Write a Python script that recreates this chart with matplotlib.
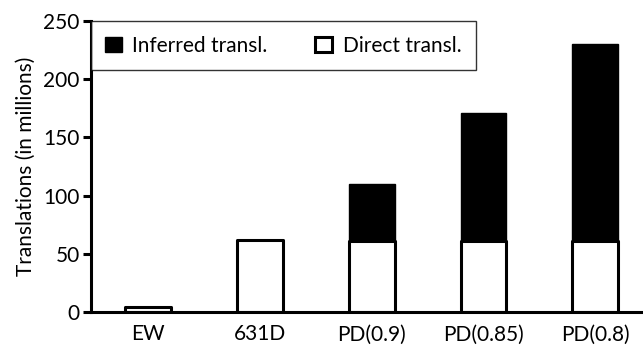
import matplotlib.pyplot as plt
import numpy as np

plt.rcParams['font.family'] = ['Lato', 'DejaVu Sans']

# data
categories = ['EW', '631D', 'PD(0.9)', 'PD(0.85)', 'PD(0.8)']
direct = [4, 62, 61, 61, 61]
inferred = [0, 0, 49, 110, 169]

fig = plt.figure(figsize=(6.43, 3.45), dpi=100)
ax = fig.add_axes([0.141, 0.0957, 0.856, 0.843])

x = np.arange(len(categories))
w = 0.41
ax.bar(x, direct, w, color='white', edgecolor='black', linewidth=2.2,
       joinstyle='round', label='Direct transl.', zorder=2)
ax.bar(x, inferred, w, bottom=direct, color='black', edgecolor='black',
       linewidth=1.0, label='Inferred transl.', zorder=2)

ax.set_xlim(-0.513, 4.41)
ax.set_ylim(0, 250)
ax.set_yticks([0, 50, 100, 150, 200, 250])
ax.set_xticks(x)
ax.set_xticklabels(categories)
ax.set_ylabel('Translations (in millions)', fontsize=15, labelpad=5)

for s in ['top', 'right']:
    ax.spines[s].set_visible(False)
ax.spines['left'].set_linewidth(2.2)
ax.spines['bottom'].set_linewidth(2.2)
ax.tick_params(axis='y', length=6, width=2.2, labelsize=15, pad=2)
ax.tick_params(axis='x', length=0, labelsize=15, pad=9)

handles, labels = ax.get_legend_handles_labels()
leg = ax.legend(handles[::-1], labels[::-1], ncol=2, loc='upper left',
                bbox_to_anchor=(0.0, 1.0), fontsize=15, frameon=True,
                fancybox=False, edgecolor='black', borderaxespad=0,
                handlelength=0.8, handleheight=0.8, handletextpad=0.5,
                columnspacing=2.3, borderpad=0.7)
leg.get_frame().set_linewidth(1.0)
leg.legend_handles[1].set_linewidth(2.2)

fig.savefig('out.png', dpi=100)
